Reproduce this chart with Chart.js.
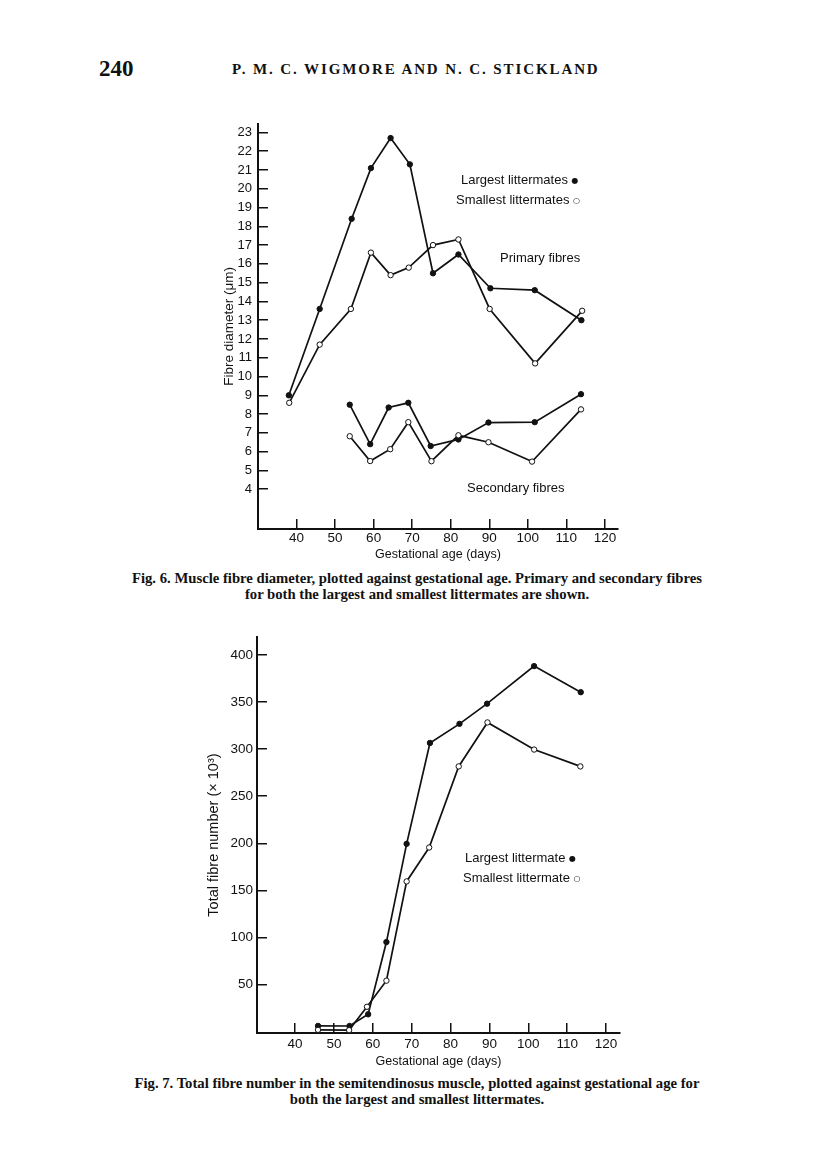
<!DOCTYPE html>
<html lang="en">
<head>
<meta charset="UTF-8">
<title>Wigmore and Stickland, Figs 6 and 7</title>
<script src="https://cdn.jsdelivr.net/npm/chart.js@4"></script>
<style>
  body {
    margin: 0;
    background: #fff;
    width: 816px;
    height: 1157px;
    position: relative;
    overflow: hidden;
    font-family: "Liberation Sans", Arial, sans-serif;
    color: #111;
  }
  .abs { position: absolute; white-space: nowrap; }
  .note { font-size: 13px; line-height: 14px; }
  .dot { font-family: "DejaVu Sans", sans-serif; font-size: 8px; vertical-align: 1px; }
  .serif { font-family: "Liberation Serif", "Times New Roman", serif; }
  .caption {
    position: absolute; left: 97px; width: 640px; text-align: center;
    font-family: "Liberation Serif", "Times New Roman", serif;
    font-weight: bold; font-size: 14.7px; line-height: 16px;
  }
  canvas { position: absolute; }
</style>
</head>
<body>

<div class="abs serif" style="left:99px; top:56px; font-size:23px; font-weight:bold;">240</div>
<div class="abs serif" style="left:232px; top:61px; font-size:15px; font-weight:bold; letter-spacing:1.9px;">P. M. C. WIGMORE AND N. C. STICKLAND</div>

<canvas id="fig6" width="490" height="470" style="left:150px; top:100px;"></canvas>
<div class="abs note" style="left:461px; top:173px;">Largest littermates <span class="dot">●</span></div>
<div class="abs note" style="left:456px; top:193px;">Smallest littermates <span class="dot">○</span></div>
<div class="abs note" style="left:500px; top:251px;">Primary fibres</div>
<div class="abs note" style="left:467px; top:481px;">Secondary fibres</div>
<div class="caption" style="top:570px;">Fig. 6. Muscle fibre diameter, plotted against gestational age. Primary and secondary fibres<br>for both the largest and smallest littermates are shown.</div>

<canvas id="fig7" width="490" height="459" style="left:150px; top:615px;"></canvas>
<div class="abs note" style="left:465px; top:851px;">Largest littermate <span class="dot">●</span></div>
<div class="abs note" style="left:463px; top:871px;">Smallest littermate <span class="dot">○</span></div>
<div class="caption" style="top:1075px;">Fig. 7. Total fibre number in the semitendinosus muscle, plotted against gestational age for<br>both the largest and smallest littermates.</div>

<script>
  // tick labels
  const xTicks = [40, 50, 60, 70, 80, 90, 100, 110, 120];
  const fig6YTicks = [4, 5, 6, 7, 8, 9, 10, 11, 12, 13, 14, 15, 16, 17, 18, 19, 20, 21, 22, 23];
  const fig7YTicks = [50, 100, 150, 200, 250, 300, 350, 400];

  // Fig. 6 - fibre diameter (um)
  const primaryLargeDays = [38, 46, 54.3, 59.3, 64.4, 69.4, 75.4, 82, 90.3, 101.8, 113.9];
  const primaryLargeVals = [9.0, 13.6, 18.4, 21.1, 22.7, 21.3, 15.5, 16.5, 14.7, 14.6, 13.0];
  const primarySmallDays = [38.1, 46, 54.1, 59.3, 64.4, 69.1, 75.4, 82, 90.1, 101.9, 114.1];
  const primarySmallVals = [8.6, 11.7, 13.6, 16.6, 15.4, 15.8, 17.0, 17.3, 13.6, 10.7, 13.5];
  const secondaryLargeDays = [53.8, 59.1, 63.9, 69, 74.8, 82, 89.8, 101.8, 113.8];
  const secondaryLargeVals = [8.5, 6.4, 8.35, 8.6, 6.3, 6.65, 7.55, 7.57, 9.06];
  const secondarySmallDays = [53.8, 59.1, 64.3, 69, 75, 82, 89.8, 101.1, 113.8];
  const secondarySmallVals = [6.82, 5.5, 6.13, 7.57, 5.49, 6.87, 6.5, 5.47, 8.25];

  // Fig. 7 - total fibre number (x 10^3)
  const totalLargeDays = [45.9, 54.0, 58.8, 63.5, 68.7, 74.7, 82.3, 89.4, 101.5, 113.5];
  const totalLargeVals = [6.1, 6, 18.4, 95.1, 199.4, 306.5, 326.8, 348.2, 388.1, 360.4];
  const totalSmallDays = [45.9, 53.9, 58.5, 63.5, 68.7, 74.5, 82.1, 89.5, 101.5, 113.4];
  const totalSmallVals = [1.9, 1.6, 26.4, 54.1, 159.5, 195.5, 281.6, 328.3, 299.5, 281.6];

  const ink = '#111';
  const family = '"Liberation Sans", Arial, sans-serif';

  function series(label, days, vals, filled) {
    return {
      label: label,
      data: days.map((d, i) => ({ x: d, y: vals[i] })),
      showLine: true,
      tension: 0,
      borderColor: ink,
      borderWidth: 1.7,
      pointRadius: 2.7,
      pointBorderWidth: 1,
      pointBorderColor: ink,
      pointBackgroundColor: filled ? ink : '#fff'
    };
  }

  function axisX(min, max, tickPad, height, titlePad) {
    return {
      type: 'linear',
      position: 'bottom',
      min: min,
      max: max,
      afterBuildTicks: s => { s.ticks = xTicks.map(v => ({ value: v })); },
      afterFit: s => { s.height = height; },
      border: { color: ink, width: 2 },
      grid: { drawOnChartArea: false, tickLength: -10, color: ink, lineWidth: 1.5 },
      ticks: { color: ink, padding: tickPad, font: { family: family, size: 13.5 } },
      title: {
        display: true, text: 'Gestational age (days)', color: ink,
        font: { family: family, size: 12.5 }, padding: { top: 0, bottom: titlePad }
      }
    };
  }

  function axisY(min, max, ticks, width, tickPad, fontSize, title, titleSize, titlePad) {
    return {
      type: 'linear',
      position: 'left',
      min: min,
      max: max,
      afterBuildTicks: s => { s.ticks = ticks.map(v => ({ value: v })); },
      afterFit: s => { s.width = width; },
      border: { color: ink, width: 2 },
      grid: { drawOnChartArea: false, tickLength: -10, color: ink, lineWidth: 1.5 },
      ticks: { color: ink, padding: tickPad, font: { family: family, size: fontSize } },
      title: {
        display: true, text: title, color: ink,
        font: { family: family, size: titleSize }, padding: { top: titlePad, bottom: 0 }
      }
    };
  }

  const common = {
    responsive: false,
    animation: false,
    devicePixelRatio: 1,
    plugins: { legend: { display: false }, tooltip: { enabled: false } }
  };

  new Chart(document.getElementById('fig6'), {
    type: 'scatter',
    data: {
      datasets: [
        series('Primary, smallest', primarySmallDays, primarySmallVals, false),
        series('Primary, largest', primaryLargeDays, primaryLargeVals, true),
        series('Secondary, smallest', secondarySmallDays, secondarySmallVals, false),
        series('Secondary, largest', secondaryLargeDays, secondaryLargeVals, true)
      ]
    },
    options: Object.assign({}, common, {
      layout: { padding: { top: 18, right: 22, bottom: 0, left: 0 } },
      scales: {
        x: axisX(30, 123.4, 11, 41, 8),
        y: axisY(1.88, 23.46, fig6YTicks, 108, 16, 13, 'Fibre diameter (μm)', 13.5, 71)
      }
    })
  });

  new Chart(document.getElementById('fig7'), {
    type: 'scatter',
    data: {
      datasets: [
        series('Smallest littermate', totalSmallDays, totalSmallVals, false),
        series('Largest littermate', totalLargeDays, totalLargeVals, true)
      ]
    },
    options: Object.assign({}, common, {
      layout: { padding: { top: 18, right: 20, bottom: 0, left: 0 } },
      scales: {
        x: axisX(30.2, 123.6, 13, 41, 5),
        y: axisY(-1.45, 418.9, fig7YTicks, 107, 14, 13.5, 'Total fibre number (× 10³)', 14.5, 55)
      }
    })
  });
</script>

</body>
</html>
